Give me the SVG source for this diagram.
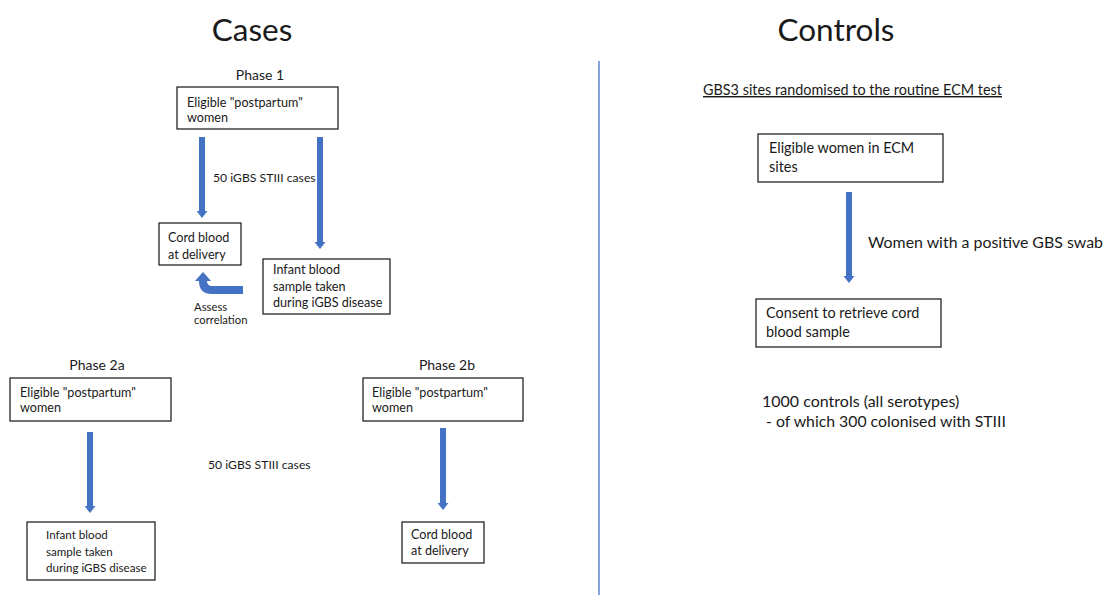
<svg xmlns="http://www.w3.org/2000/svg" width="1106" height="595" viewBox="0 0 1106 595">
  <style>
    text { font-family: Lato, "Open Sans", "Liberation Sans", sans-serif; fill: #1a1a1a; }
    .title { font-size: 31.5px; text-anchor: middle; }
    .phase { font-size: 14px; text-anchor: middle; }
    .box rect { fill: #ffffff; stroke: #262626; stroke-width: 1.3; }
    .box text { font-size: 12.6px; }
    .box text.sm { font-size: 11.6px; }
    .ctl rect { fill: #ffffff; stroke: #262626; stroke-width: 1.3; }
    .ctl text { font-size: 14.4px; }
    .lbl { font-size: 12.2px; }
    .arrow { stroke: #4472C4; stroke-width: 6; fill: none; }
    .head { fill: #4472C4; }
  </style>

  <rect width="1106" height="595" fill="#ffffff"/>

  <!-- headings -->
  <text class="title" x="252" y="41">Cases</text>
  <text class="title" x="836" y="41">Controls</text>
  <line x1="599" y1="61" x2="599" y2="595" stroke="#4472C4" stroke-width="1.3"/>

  <!-- phase labels -->
  <text class="phase" x="260" y="80">Phase 1</text>
  <text class="phase" x="97" y="370">Phase 2a</text>
  <text class="phase" x="447" y="370">Phase 2b</text>

  <!-- Phase 1 nodes -->
  <g id="p1-eligible" class="box">
    <rect x="177" y="87" width="161" height="42"/>
    <text x="187" y="107">Eligible "postpartum"</text>
    <text x="187" y="122">women</text>
  </g>
  <g id="p1-cord" class="box">
    <rect x="159" y="223" width="82" height="42"/>
    <text x="168" y="242">Cord blood</text>
    <text x="168" y="259">at delivery</text>
  </g>
  <g id="p1-infant" class="box">
    <rect x="263" y="259" width="127" height="55"/>
    <text x="273" y="274">Infant blood</text>
    <text x="273" y="291">sample taken</text>
    <text x="273" y="307">during iGBS disease</text>
  </g>

  <!-- Phase 2a nodes -->
  <g id="p2a-eligible" class="box">
    <rect x="10" y="378" width="161" height="43"/>
    <text x="20" y="397">Eligible "postpartum"</text>
    <text x="20" y="412">women</text>
  </g>
  <g id="p2a-infant" class="box">
    <rect x="27" y="522" width="128" height="58"/>
    <text class="sm" x="46" y="539">Infant blood</text>
    <text class="sm" x="46" y="556">sample taken</text>
    <text class="sm" x="46" y="572">during iGBS disease</text>
  </g>

  <!-- Phase 2b nodes -->
  <g id="p2b-eligible" class="box">
    <rect x="363" y="378" width="160" height="43"/>
    <text x="372" y="397">Eligible "postpartum"</text>
    <text x="372" y="412">women</text>
  </g>
  <g id="p2b-cord" class="box">
    <rect x="402" y="522" width="82" height="41"/>
    <text x="411" y="539">Cord blood</text>
    <text x="411" y="555">at delivery</text>
  </g>

  <!-- Controls nodes -->
  <g id="ctl-eligible" class="ctl">
    <rect x="758" y="134" width="185" height="48"/>
    <text x="769" y="153">Eligible women in ECM</text>
    <text x="769" y="172">sites</text>
  </g>
  <g id="ctl-consent" class="ctl">
    <rect x="756" y="299" width="185" height="48"/>
    <text x="766" y="318">Consent to retrieve cord</text>
    <text x="766" y="337">blood sample</text>
  </g>

  <!-- connectors -->
  <g id="connectors">
    <line class="arrow" x1="202" y1="137" x2="202" y2="211"/>
    <path class="head" d="M196.5,211 L207.5,211 L202,218 Z"/>
    <line class="arrow" x1="320" y1="137" x2="320" y2="242"/>
    <path class="head" d="M314.5,242 L325.5,242 L320,249 Z"/>

    <!-- curved return arrow: infant sample back to cord blood -->
    <path d="M243,290 L212,290 Q203,290 203,281 L203,280" stroke="#4472C4" stroke-width="8" fill="none"/>
    <path class="head" d="M195,281 L211,281 L203,272 Z"/>

    <line class="arrow" x1="90" y1="432" x2="90" y2="506"/>
    <path class="head" d="M84.5,506 L95.5,506 L90,513 Z"/>
    <line class="arrow" x1="443" y1="428" x2="443" y2="503"/>
    <path class="head" d="M437.5,503 L448.5,503 L443,510 Z"/>

    <line class="arrow" x1="849" y1="192" x2="849" y2="276"/>
    <path class="head" d="M843.5,276 L854.5,276 L849,283 Z"/>
  </g>

  <!-- connector labels -->
  <text class="lbl" x="213" y="182">50 iGBS STIII cases</text>
  <text style="font-size:11.3px" x="194" y="311">Assess</text>
  <text style="font-size:11.3px" x="194" y="324">correlation</text>
  <text class="lbl" x="208" y="469">50 iGBS STIII cases</text>
  <text style="font-size:15.9px" x="868" y="248">Women with a positive GBS swab</text>

  <!-- controls notes -->
  <text style="font-size:14.4px; text-decoration: underline" x="703" y="95">GBS3 sites randomised to the routine ECM test</text>
  <text style="font-size:16px" x="762" y="407">1000 controls (all serotypes)</text>
  <text style="font-size:15.8px" x="766" y="427">- of which 300 colonised with STIII</text>
</svg>
